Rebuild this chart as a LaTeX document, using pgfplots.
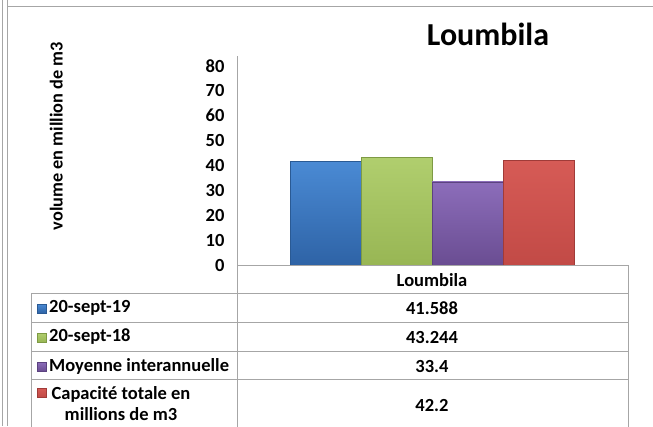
\documentclass[border=0pt]{standalone}
\usepackage{pgfplots}
\pgfplotsset{compat=1.18}
\usepackage{fontspec}
\setmainfont{Carlito}

\definecolor{gridgray}{HTML}{A6A6A6}
\definecolor{s1top}{HTML}{4A8AD4}\definecolor{s1bot}{HTML}{2E63A6}\definecolor{s1edge}{HTML}{2A5A94}
\definecolor{s2top}{HTML}{B0CE6E}\definecolor{s2bot}{HTML}{98B654}\definecolor{s2edge}{HTML}{7E9A44}
\definecolor{s3top}{HTML}{8C6DBA}\definecolor{s3bot}{HTML}{6A4D92}\definecolor{s3edge}{HTML}{5C4280}
\definecolor{s4top}{HTML}{D65B56}\definecolor{s4bot}{HTML}{C24A46}\definecolor{s4edge}{HTML}{A03B38}

\begin{document}
\begin{tikzpicture}[x=1pt,y=-1pt]
  \useasboundingbox (0,0) rectangle (653,426);
  % outer frame of the chart area
  \draw[gridgray, line width=0.8pt] (2.5,0) -- (2.5,426);
  \draw[gridgray, line width=0.8pt] (7.5,0) -- (7.5,426);
  \draw[gridgray, line width=0.8pt] (7.5,6) -- (653,6);

  \begin{axis}[
      at={(237pt,-265pt)}, anchor=origin,
      scale only axis,
      width=391pt, height=209pt,
      xmin=0, xmax=391,
      ymin=0, ymax=84,
      axis lines=left,
      axis line style={gridgray, line width=0.8pt, -},
      xtick=\empty,
      ytick={0,10,...,80},
      major tick length=0pt,
      /pgf/number format/assume math mode=true,
      yticklabel style={font=\fontsize{18.5}{20}\selectfont\bfseries, xshift=-9pt},
      ylabel={volume en million de m3},
      every axis y label/.style={at={(axis description cs:-0.462,0.617)},
        rotate=90, anchor=center, font=\fontsize{18.3}{20}\selectfont\bfseries},
      title={Loumbila},
      title style={at={(axis description cs:0.642,1.077)}, anchor=center,
        font=\fontsize{32}{36}\selectfont\bfseries},
      ybar, bar width=71pt,
      clip=false,
    ]
    \addplot[bar shift=0pt, draw=s1edge, top color=s1top, bottom color=s1bot] coordinates {(88.5,41.588)};
    \addplot[bar shift=0pt, draw=s2edge, top color=s2top, bottom color=s2bot] coordinates {(159.5,43.244)};
    \addplot[bar shift=0pt, draw=s3edge, top color=s3top, bottom color=s3bot] coordinates {(230.5,33.4)};
    \addplot[bar shift=0pt, draw=s4edge, top color=s4top, bottom color=s4bot] coordinates {(301.5,42.2)};
  \end{axis}

  % data table
  \begin{scope}[gridgray, line width=0.8pt]
    \draw (237,265) -- (628,265) -- (628,430);
    \draw (237,265) -- (237,430);
    \draw (31,293) -- (628,293);
    \draw (31,322) -- (628,322);
    \draw (31,351) -- (628,351);
    \draw (31,379) -- (628,379);
    \draw (31,293) -- (31,430);
  \end{scope}
  \begin{scope}[font=\fontsize{18.5}{21}\selectfont\bfseries]
    \node at (432,280) {Loumbila};
    \node at (432,308) {41.588};
    \node at (432,337) {43.244};
    \node at (432,366) {33.4};
    \node at (432,405) {42.2};
    \node[anchor=west, inner sep=0pt] at (49,308) {20-sept-19};
    \node[anchor=west, inner sep=0pt] at (49,337) {20-sept-18};
    \node[anchor=west, inner sep=0pt] at (49,366) {Moyenne interannuelle};
    \node[align=center, inner sep=0pt] at (121,404) {Capacité totale en\\millions de m3};
  \end{scope}
  % legend keys
  \shade[top color=s1top, bottom color=s1bot, draw=s1edge] (37,304) rectangle (46,313);
  \shade[top color=s2top, bottom color=s2bot, draw=s2edge] (37,333) rectangle (46,342);
  \shade[top color=s3top, bottom color=s3bot, draw=s3edge] (37,362) rectangle (46,371);
  \shade[top color=s4top, bottom color=s4bot, draw=s4edge] (37,388) rectangle (46,397);
\end{tikzpicture}
\end{document}
